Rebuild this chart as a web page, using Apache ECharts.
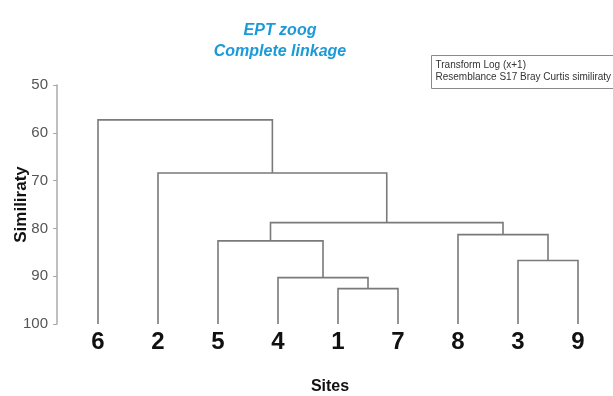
<!DOCTYPE html>
<html>
<head>
<meta charset="utf-8">
<script src="https://cdn.jsdelivr.net/npm/echarts@6/dist/echarts.min.js"></script>
<style>html,body{margin:0;padding:0;background:#fff;}#chart{width:613px;height:396px;}</style>
</head>
<body>
<div id="chart"></div>
<script>
// Leaf order along the x axis
const sites = ['6', '2', '5', '4', '1', '7', '8', '3', '9'];
// Merges (complete linkage): left cluster, right cluster, similarity level
const mergeLeft = ['1', '4', '3', '5', '8', 'M4', '2', '6'];
const mergeRight = ['7', 'M1', '9', 'M2', 'M3', 'M5', 'M6', 'M7'];
const mergeSimilarity = [92.6, 90.3, 86.7, 82.6, 81.3, 78.8, 68.4, 57.3];
const leafSimilarity = 100;
const yTicks = [50, 60, 70, 80, 90, 100];

// Build dendrogram segments from the merge table
const pos = {}, lvl = {};
sites.forEach((s, i) => { pos[s] = i; lvl[s] = leafSimilarity; });
const segs = [];
mergeLeft.forEach((l, i) => {
  const r = mergeRight[i], id = 'M' + (i + 1), h = mergeSimilarity[i];
  segs.push([pos[l], lvl[l], pos[r], lvl[r], h]);
  pos[id] = (pos[l] + pos[r]) / 2;
  lvl[id] = h;
});

const chart = echarts.init(document.getElementById('chart'));
chart.setOption({
  animation: false,
  title: {
    text: 'EPT zoog\nComplete linkage',
    left: 275, top: 15, textAlign: 'center',
    textStyle: { color: '#1a9ad8', fontSize: 16, fontWeight: 'bold', fontStyle: 'italic',
      fontFamily: 'Liberation Sans, Arial, sans-serif', lineHeight: 21 }
  },
  grid: { left: 68, right: 5, top: 85, bottom: 72, outerBoundsMode: 'none', containLabel: false },
  xAxis: [{
    type: 'category', data: sites,
    axisLine: { show: false }, axisTick: { show: false },
    axisLabel: { color: '#111', fontSize: 24, fontWeight: 'bold', margin: 6,
      fontFamily: 'Liberation Sans, Arial, sans-serif' },
    name: 'Sites', nameLocation: 'middle', nameGap: 55, nameMoveOverlap: false,
    nameTextStyle: { color: '#111', fontSize: 16, fontWeight: 'bold', padding: [0, 16, 0, 0],
      fontFamily: 'Liberation Sans, Arial, sans-serif' }
  }, {
    type: 'value', min: -0.5, max: 8.5, show: false
  }],
  yAxis: {
    type: 'value', inverse: true, min: yTicks[0], max: yTicks[yTicks.length - 1], interval: 10, offset: 11,
    splitLine: { show: false },
    axisLine: { show: true, onZero: false, lineStyle: { color: '#aaa', width: 1.5 } },
    axisTick: { show: true, length: 4, lineStyle: { color: '#aaa' } },
    axisLabel: { color: '#555', fontSize: 15, margin: 9,
      fontFamily: 'Liberation Sans, Arial, sans-serif' },
    name: 'Similiraty', nameLocation: 'middle', nameGap: 27, nameRotate: 90, nameMoveOverlap: false,
    nameTextStyle: { color: '#111', fontSize: 17, fontWeight: 'bold',
      fontFamily: 'Liberation Sans, Arial, sans-serif' }
  },
  graphic: [{
    type: 'group', left: 431, top: 55,
    children: [
      { type: 'rect', shape: { x: 0, y: 0, width: 190, height: 33 },
        style: { fill: '#fff', stroke: '#8a8a8a', lineWidth: 1 } },
      { type: 'text', x: 4, y: 5, style: { text: 'Transform Log (x+1)', fill: '#333', fontSize: 10,
        fontFamily: 'Liberation Sans, Arial, sans-serif' } },
      { type: 'text', x: 4, y: 17, style: { text: 'Resemblance S17 Bray Curtis similiraty', fill: '#333', fontSize: 10,
        fontFamily: 'Liberation Sans, Arial, sans-serif' } }
    ]
  }],
  series: [{
    type: 'custom', xAxisIndex: 1, yAxisIndex: 0,
    data: segs,
    encode: { x: [0, 2], y: [1, 3, 4] },
    renderItem: function (params, api) {
      const a = api.coord([api.value(0), api.value(1)]);
      const b = api.coord([api.value(0), api.value(4)]);
      const c = api.coord([api.value(2), api.value(4)]);
      const d = api.coord([api.value(2), api.value(3)]);
      return { type: 'polyline', shape: { points: [a, b, c, d] },
        style: { stroke: '#7a7a7a', lineWidth: 1.6, fill: null } };
    }
  }]
});
</script>
</body>
</html>
